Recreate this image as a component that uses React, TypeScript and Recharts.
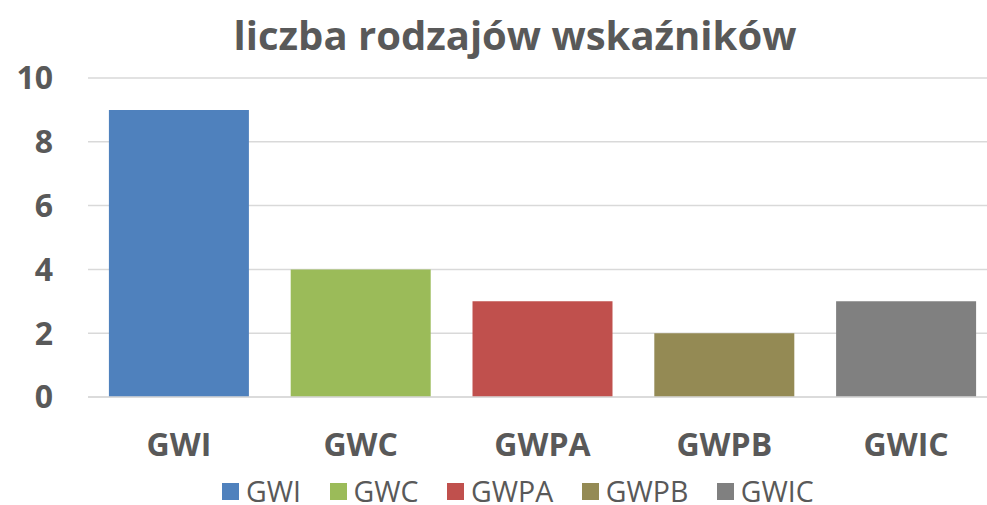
import React from "react";
import { BarChart, Bar, XAxis, YAxis, CartesianGrid, Cell } from "recharts";

const title = "liczba rodzajów wskaźników";
const categories = ["GWI", "GWC", "GWPA", "GWPB", "GWIC"];
const values = [9, 4, 3, 2, 3];
const colors = ["#4F81BD", "#9BBB59", "#C0504D", "#948A54", "#808080"];
const yTicks = [0, 2, 4, 6, 8, 10];

const data = categories.map((c, i) => ({ name: c, value: values[i] }));

const FONT = "'Open Sans', 'DejaVu Sans', sans-serif";
const TEXT = "#595959";

export default function App() {
  return (
    <div
      style={{
        position: "absolute",
        top: 0,
        left: 0,
        width: 987,
        height: 505,
        overflow: "hidden",
        background: "#ffffff",
        fontFamily: FONT,
      }}
    >
      <svg
        width={987}
        height={70}
        style={{ position: "absolute", top: 0, left: 0 }}
      >
        <text
          x={515}
          y={50}
          textAnchor="middle"
          fontFamily={FONT}
          fontWeight={700}
          fontSize={40}
          fill={TEXT}
        >
          {title}
        </text>
      </svg>
      <BarChart
        width={987}
        height={505}
        data={data}
        margin={{ top: 78, right: -10, bottom: 48, left: 0 }}
        barCategoryGap="11.5%"
        style={{ overflow: "hidden" }}
      >
        <CartesianGrid vertical={false} stroke="#d9d9d9" strokeWidth={1.5} />
        <XAxis
          dataKey="name"
          height={60}
          tickLine={false}
          axisLine={{ stroke: "#d9d9d9", strokeWidth: 1.5 }}
          tickMargin={30}
          tick={{ fill: TEXT, fontSize: 32, fontWeight: 700, fontFamily: FONT }}
          interval={0}
        />
        <YAxis
          width={88}
          domain={[0, 10]}
          ticks={yTicks}
          tickLine={false}
          axisLine={false}
          tickMargin={29}
          tick={{ fill: TEXT, fontSize: 32, fontWeight: 700, fontFamily: FONT }}
        />
        <Bar dataKey="value" isAnimationActive={false}>
          {data.map((d, i) => (
            <Cell key={d.name} fill={colors[i]} />
          ))}
        </Bar>
      </BarChart>
      <div
        style={{
          position: "absolute",
          left: 222,
          top: 478,
          display: "flex",
          fontFamily: FONT,
          fontSize: 28.5,
          color: TEXT,
          lineHeight: "27px",
          whiteSpace: "nowrap",
        }}
      >
        {categories.map((c, i) => (
          <div
            key={c}
            style={{
              display: "flex",
              alignItems: "center",
              marginRight: i < categories.length - 1 ? 28.5 : 0,
            }}
          >
            <span
              style={{
                display: "inline-block",
                width: 17,
                height: 17,
                background: colors[i],
                marginRight: 7,
              }}
            />
            <span>{c}</span>
          </div>
        ))}
      </div>
    </div>
  );
}
